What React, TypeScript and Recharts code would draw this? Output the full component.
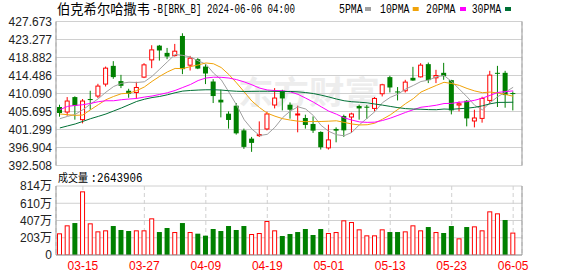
import React from 'react';
import { ComposedChart, Bar, Line, XAxis, YAxis, CartesianGrid } from 'recharts';

const dates = ['03-12','03-13','03-14','03-15','03-18','03-19','03-20','03-21','03-22','03-25','03-26','03-27','03-28','04-01','04-02','04-03','04-04','04-05','04-08','04-09','04-10','04-11','04-12','04-15','04-16','04-17','04-18','04-19','04-22','04-23','04-24','04-25','04-26','04-29','04-30','05-01','05-02','05-03','05-06','05-07','05-08','05-09','05-10','05-13','05-14','05-15','05-16','05-17','05-20','05-21','05-22','05-23','05-24','05-28','05-29','05-30','05-31','06-03','06-04','06-05'];

const openPrices = [406.79,405.57,409.22,403.70,408.74,409.47,412.39,416.84,413.12,410.76,410.34,414.09,418.30,421.78,420.01,419.35,424.14,417.01,418.47,416.67,413.02,408.57,405.16,407.11,401.09,399.07,399.80,401.43,407.28,410.76,407.35,404.92,404.11,402.65,400.70,396.81,401.43,404.60,404.35,407.03,406.86,406.45,410.03,414.09,410.59,410.76,413.92,414.16,417.26,413.92,415.14,413.36,407.28,408.32,403.38,404.01,408.40,415.14,415.14,410.20];
const highPrices = [407.35,409.22,409.40,408.74,410.76,412.46,416.67,417.99,414.65,411.24,412.95,417.50,421.88,421.95,421.22,422.20,424.80,419.28,418.72,417.26,413.60,411.00,405.72,407.76,401.51,399.49,403.28,405.65,411.41,411.00,407.91,407.11,404.92,404.50,400.85,402.48,401.82,404.92,405.40,407.35,407.28,409.22,412.46,414.41,411.66,413.43,416.60,417.50,417.65,415.87,417.57,413.43,408.15,408.49,406.13,409.30,415.63,416.84,415.63,410.59];
const lowPrices = [404.43,404.67,403.70,402.80,406.13,408.98,411.80,413.68,411.41,409.05,408.81,413.85,416.28,418.13,418.47,419.11,414.82,415.70,416.04,412.39,407.76,404.26,401.51,400.05,396.57,395.84,399.49,401.09,406.45,405.96,403.94,400.61,401.51,400.46,396.40,396.40,398.17,399.49,400.46,403.70,403.87,405.72,409.37,410.34,408.40,410.34,413.19,413.99,412.63,412.63,413.43,404.99,405.72,402.07,401.82,402.97,407.52,406.79,406.62,405.96];
const closePrices = [405.33,408.25,407.11,408.25,408.49,411.90,416.28,414.09,411.97,410.03,411.56,417.09,420.74,420.60,419.11,420.42,416.04,418.72,416.18,414.97,409.47,407.91,403.63,400.36,397.05,398.03,400.05,405.09,408.98,408.88,406.13,405.09,402.41,401.02,396.96,398.76,401.02,401.09,405.09,406.45,406.69,408.88,412.22,411.56,410.34,412.87,413.26,417.01,413.36,414.48,414.34,405.96,407.59,404.01,404.11,408.88,414.58,414.97,409.71,409.95];
const prevCloseBeforeStart = 404.9;

const volumes = [2556000,3500000,3770000,7510000,3735000,2790000,2910000,3420000,2950000,2830000,2910000,2910000,4325000,2710000,3185000,2710000,3770000,2710000,2516000,2280000,3067000,2830000,3420000,2950000,3420000,2477000,2595000,4010000,2910000,2240000,2477000,2710000,3067000,2360000,3067000,2595000,2710000,4090000,3890000,3028000,2320000,2320000,3028000,2710000,2710000,2790000,3500000,2910000,3300000,2710000,2595000,3420000,1966000,3300000,3380000,2910000,5150000,4915000,4130000,2643906];

const ma5 = [403.94,404.50,404.99,406.13,407.50,408.81,410.42,411.80,412.56,412.85,412.78,412.95,414.29,416.04,417.84,419.62,419.40,419.01,418.08,417.26,415.07,413.46,410.44,407.28,403.67,401.39,399.83,400.12,401.85,404.21,405.82,406.84,406.30,404.70,402.31,400.85,400.02,399.78,400.58,402.48,404.06,405.65,407.86,409.15,409.93,411.17,412.05,413.02,413.36,414.19,414.48,413.02,411.15,409.27,407.20,406.11,407.84,409.32,410.44,411.61];
const ma10 = [405.09,404.92,404.75,404.84,406.13,407.35,408.57,409.37,410.03,410.17,410.79,411.68,413.05,414.29,415.36,416.21,416.18,416.65,417.06,417.55,417.35,416.43,414.72,412.68,410.47,408.23,406.64,405.28,404.55,403.94,403.60,403.33,403.21,403.26,403.26,403.33,403.43,403.04,402.65,402.41,402.46,402.85,403.82,404.87,406.21,407.62,408.83,410.44,411.27,412.07,412.83,412.53,412.07,411.32,410.71,410.29,410.44,410.22,409.86,409.42];
const ma20 = [406.13,406.94,407.18,407.35,407.67,408.08,408.32,408.32,408.57,408.74,408.88,409.22,409.47,409.86,410.27,410.83,411.56,412.29,413.26,413.87,414.07,414.04,413.87,413.48,412.92,412.22,411.41,410.95,410.81,410.76,410.49,409.88,408.96,407.98,406.86,405.79,405.04,404.16,403.60,403.16,403.04,403.09,403.50,404.06,404.75,405.47,406.13,406.74,406.96,407.23,407.64,407.69,407.96,408.10,408.44,408.96,409.64,410.34,410.56,410.73];
const ma30 = [401.68,402.17,402.65,403.28,403.94,404.50,405.09,405.82,406.55,407.35,408.15,408.69,409.10,409.37,409.78,410.27,410.68,410.83,410.93,411.00,411.00,410.93,410.76,410.64,410.59,410.61,410.64,410.64,410.61,410.56,410.59,410.49,410.32,410.08,409.69,409.25,408.74,408.32,408.08,407.96,407.81,407.52,407.25,406.94,406.64,406.40,406.30,406.25,406.16,406.13,406.30,406.23,406.38,406.50,406.72,407.08,407.57,407.91,407.93,407.96];

const priceTicks = [392.508, 396.904, 401.299, 405.695, 410.090, 414.486, 418.882, 423.277, 427.673];
const volumeTicks = [0, 2035000, 4070000, 6105000, 8140000];
const volumeTickLabels = ['0', '203万', '407万', '610万', '814万'];
const dateTicks = ['03-15', '03-27', '04-09', '04-19', '05-01', '05-13', '05-23', '06-05'];

const titleName = '伯克希尔哈撒韦';
const titleCode = '-B[BRK_B] 2024-06-06 04:00';
const volumeLabel = '成交量';
const lastVolumeText = ':2643906';
const watermark = '东方财富';

const maSeries = [
  { key: 'ma5', name: '5PMA', color: '#a0a0a0' },
  { key: 'ma10', name: '10PMA', color: '#f0a30a' },
  { key: 'ma20', name: '20PMA', color: '#ff00ff' },
  { key: 'ma30', name: '30PMA', color: '#007035' },
];

const RED = '#ff0000';
const GREEN = '#008000';
const BORDER = '#999999';
const GRID = '#d0d0d0';

const rows = dates.map((date, i) => ({
  date,
  open: openPrices[i],
  high: highPrices[i],
  low: lowPrices[i],
  close: closePrices[i],
  range: [lowPrices[i], highPrices[i]],
  volume: volumes[i],
  volUp: closePrices[i] >= (i === 0 ? prevCloseBeforeStart : closePrices[i - 1]),
  ma5: ma5[i],
  ma10: ma10[i],
  ma20: ma20[i],
  ma30: ma30[i],
}));

const Candle = (props: any) => {
  const { x, y, width, height, payload } = props;
  if (!payload || x == null) return null;
  const { open, close, high, low } = payload;
  const top0 = Math.min(y, y + height);
  const h = Math.abs(height);
  const span = high - low;
  const toY = (v: number) => (span === 0 ? top0 : top0 + ((high - v) / span) * h);
  const cx = x + width / 2;
  const up = close >= open;
  const bTop = toY(Math.max(open, close));
  const bBot = toY(Math.min(open, close));
  const bodyH = Math.max(bBot - bTop, 1);
  if (up) {
    return (
      <g>
        <line x1={cx} x2={cx} y1={top0} y2={bTop} stroke={RED} strokeWidth={1} />
        <line x1={cx} x2={cx} y1={bTop + bodyH} y2={top0 + h} stroke={RED} strokeWidth={1} />
        <rect x={x + 0.5} y={bTop} width={width - 1} height={bodyH} fill="#ffffff" stroke={RED} strokeWidth={1} />
      </g>
    );
  }
  return (
    <g>
      <line x1={cx} x2={cx} y1={top0} y2={top0 + h} stroke={GREEN} strokeWidth={1} />
      <rect x={x} y={bTop} width={width} height={bodyH} fill={GREEN} />
    </g>
  );
};

const VolumeBar = (props: any) => {
  const { x, y, width, height, payload } = props;
  if (!payload || x == null) return null;
  if (payload.volUp) {
    return <rect x={x + 0.5} y={y + 0.5} width={width - 1} height={Math.max(height - 0.5, 0)} fill="#ffffff" stroke={RED} strokeWidth={1} />;
  }
  return <rect x={x} y={y} width={width} height={height} fill={GREEN} />;
};

const axisFont = 'Liberation Sans, Arial, Noto Sans CJK SC, sans-serif';

export default function App() {
  return (
    <div style={{ position: 'absolute', left: 0, top: 0, width: 578, height: 276, background: '#ffffff', overflow: 'hidden' }}>
      <svg width={578} height={276} style={{ position: 'absolute', left: 0, top: 0 }}>
        <text x={238} y={104} fontSize={32} fontFamily="Noto Sans CJK SC" fontWeight={700} fill="#ededed" textLength={142} lengthAdjust="spacingAndGlyphs">{watermark}</text>
      </svg>
      <div style={{ position: 'absolute', left: 0, top: 0 }}>
        <ComposedChart width={578} height={178} data={rows} margin={{ top: 21.5, right: 55, bottom: 12.5, left: 0 }}>
          <CartesianGrid vertical={false} stroke={GRID} />
          <CartesianGrid horizontal={false} stroke={GRID} strokeDasharray="4 3" />
          <XAxis dataKey="date" ticks={dateTicks} interval={0} tick={false} tickLine={false} axisLine={{ stroke: BORDER }} height={0} padding={{ left: 0, right: 5 }} />
          <XAxis xAxisId="top" orientation="top" dataKey="date" tick={false} tickLine={false} axisLine={{ stroke: BORDER }} height={0} />
          <YAxis domain={[392.508, 427.673]} ticks={priceTicks} interval={0} allowDataOverflow width={56} tickLine={false} tickSize={2} tickMargin={2} axisLine={{ stroke: BORDER }} tickFormatter={(v: number) => v.toFixed(3)} tick={{ fill: '#222', fontSize: 12, fontFamily: axisFont }} />
          <YAxis yAxisId="r" orientation="right" width={1} tick={false} tickLine={false} axisLine={{ stroke: BORDER }} />
          <Bar dataKey="range" barSize={5} shape={<Candle />} isAnimationActive={false} />
          {maSeries.map((s) => (
            <Line key={s.key} type="linear" dataKey={s.key} name={s.name} stroke={s.color} strokeWidth={1} dot={false} activeDot={false} isAnimationActive={false} />
          ))}
        </ComposedChart>
      </div>
      <div style={{ position: 'absolute', left: 0, top: 170 }}>
        <ComposedChart width={578} height={106} data={rows} margin={{ top: 16, right: 55, bottom: 0, left: 0 }}>
          <CartesianGrid vertical={false} stroke={GRID} />
          <CartesianGrid horizontal={false} stroke={GRID} strokeDasharray="4 3" />
          <XAxis dataKey="date" ticks={dateTicks} interval={0} tickLine={false} tickSize={0} tickMargin={6} axisLine={{ stroke: BORDER }} height={21} padding={{ left: 0, right: 5 }} tick={{ fill: RED, fontSize: 12, fontFamily: axisFont }} />
          <XAxis xAxisId="top" orientation="top" dataKey="date" tick={false} tickLine={false} axisLine={{ stroke: BORDER }} height={0} />
          <YAxis domain={[0, 8140000]} ticks={volumeTicks} interval={0} allowDataOverflow width={56} tickLine={false} tickSize={2} tickMargin={2} axisLine={{ stroke: BORDER }} tickFormatter={(v: number) => volumeTickLabels[volumeTicks.indexOf(v)] ?? ''} tick={{ fill: '#222', fontSize: 12, fontFamily: axisFont }} />
          <YAxis yAxisId="r" orientation="right" width={1} tick={false} tickLine={false} axisLine={{ stroke: BORDER }} />
          <Bar dataKey="volume" barSize={5} shape={<VolumeBar />} isAnimationActive={false} />
        </ComposedChart>
      </div>
      <svg width={578} height={276} style={{ position: 'absolute', left: 0, top: 0, pointerEvents: 'none' }}>
        <text x={57} y={13.5} fontSize={13.3} fontFamily="Noto Sans CJK SC" fill="#000">{titleName}</text>
        <text x={152} y={13} fontSize={12} fontFamily="Liberation Mono, monospace" fill="#000" textLength={143} lengthAdjust="spacingAndGlyphs">{titleCode}</text>
        {maSeries.map((s, i) => {
          const textX = [339, 380, 426, 471.7][i];
          const swX = [365, 412.7, 460, 505][i];
          return (
            <g key={s.key}>
              <text x={textX} y={13} fontSize={12} fontFamily="Liberation Mono, monospace" fill="#000" textLength={s.name.length * 5.9} lengthAdjust="spacingAndGlyphs">{s.name}</text>
              <rect x={swX} y={7} width={6} height={4} fill={s.color} />
            </g>
          );
        })}
        <text x={58} y={182} fontSize={11.5} fontFamily="Noto Sans CJK SC" fill="#000" textLength={30} lengthAdjust="spacingAndGlyphs">{volumeLabel}</text>
        <text x={90.5} y={182} fontSize={12} fontFamily="Liberation Mono, monospace" fill="#000" textLength={52} lengthAdjust="spacingAndGlyphs">{lastVolumeText}</text>
      </svg>
    </div>
  );
}
